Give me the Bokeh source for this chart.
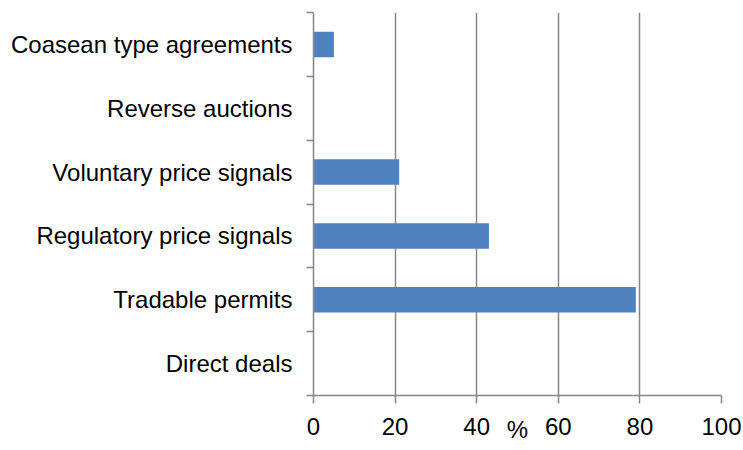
from bokeh.plotting import figure
from bokeh.models import Range1d, FixedTicker, ColumnDataSource
from bokeh.embed import file_html
from bokeh.resources import INLINE

categories = ["Direct deals", "Tradable permits", "Regulatory price signals",
              "Voluntary price signals", "Reverse auctions", "Coasean type agreements"]
values = [0, 79, 43, 21, 0, 5]
x_ticks = [0, 20, 40, 60, 80, 100]

FONT = "Liberation Sans"
GRAY = "#868686"
BAR = "#4F81BD"

centers = [i + 0.5 for i in range(len(categories))]
bounds = list(range(len(categories) + 1))
src = ColumnDataSource(dict(y=centers, v=values, cat=categories))

p = figure(width=743, height=450, output_backend="svg", toolbar_location=None,
           x_range=Range1d(0, 100), y_range=Range1d(0, len(categories)),
           min_border_left=313, min_border_right=22, min_border_top=12, min_border_bottom=55)
p.outline_line_color = None
p.background_fill_color = "white"
p.border_fill_color = "white"

p.hbar(y="y", right="v", left=0, height=0.4, source=src, fill_color=BAR, line_color=None)

# x axis
xa = p.xaxis[0]
xa.ticker = FixedTicker(ticks=x_ticks, minor_ticks=[])
xa.axis_line_color = GRAY
xa.axis_line_width = 1.5
xa.major_tick_line_color = GRAY
xa.major_tick_line_width = 1.5
xa.major_tick_out = 8
xa.major_tick_in = 0
xa.minor_tick_line_color = None
xa.major_label_text_font = FONT
xa.major_label_text_font_size = "24px"
xa.major_label_text_color = "black"
xa.major_label_standoff = 14
xa.axis_label = "%"
xa.axis_label_text_font = FONT
xa.axis_label_text_font_size = "24px"
xa.axis_label_text_font_style = "normal"
xa.axis_label_text_color = "black"
xa.axis_label_standoff = -22

# y axis: labels at centers, tick marks at boundaries
ya = p.yaxis[0]
ya.ticker = FixedTicker(ticks=centers, minor_ticks=bounds)
ya.major_label_overrides = {c: lab for c, lab in zip(centers, categories)}
ya.axis_line_color = GRAY
ya.axis_line_width = 1.5
ya.major_tick_line_color = None
ya.major_tick_out = 0
ya.major_tick_in = 0
ya.minor_tick_line_color = GRAY
ya.minor_tick_line_width = 1.5
ya.minor_tick_out = 7
ya.minor_tick_in = 0
ya.major_label_text_font = FONT
ya.major_label_text_font_size = "24px"
ya.major_label_text_color = "black"
ya.major_label_standoff = 14

p.xgrid.ticker = FixedTicker(ticks=x_ticks[1:])
p.xgrid.grid_line_color = GRAY
p.xgrid.grid_line_width = 1.5
p.ygrid.grid_line_color = None

open("out.html", "w").write(file_html(p, INLINE))
